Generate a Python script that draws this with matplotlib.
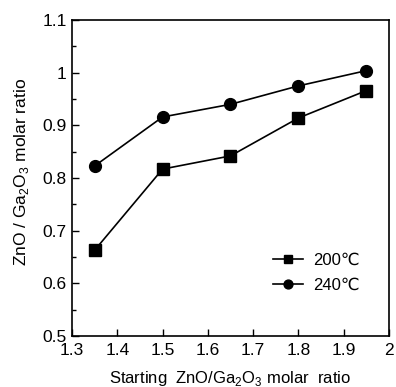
import matplotlib
matplotlib.use("Agg")
import matplotlib.pyplot as plt
from matplotlib.ticker import MultipleLocator

plt.rcParams['font.family'] = ['Liberation Sans', 'DejaVu Sans']
plt.rcParams['mathtext.fontset'] = 'custom'
plt.rcParams['mathtext.rm'] = 'Liberation Sans'

# datos
x_start = [1.35, 1.5, 1.65, 1.8, 1.95]
ratio_200 = [0.663, 0.817, 0.842, 0.914, 0.966]
ratio_240 = [0.823, 0.916, 0.940, 0.975, 1.004]
labels = ["200\u2103", "240\u2103"]

fig = plt.figure(figsize=(3.96, 3.87), dpi=100)
ax = fig.add_axes([0.182, 0.132, 0.800, 0.816])

ax.plot(x_start, ratio_200, color="black", lw=1.2, marker="s", ms=8, label=labels[0])
ax.plot(x_start, ratio_240, color="black", lw=1.2, marker="o", ms=8.5, label=labels[1])

ax.set_xlim(1.3, 2.0)
ax.set_ylim(0.5, 1.1)
ax.yaxis.set_minor_locator(MultipleLocator(0.05))
ax.set_xticks([1.3, 1.4, 1.5, 1.6, 1.7, 1.8, 1.9, 2.0])
ax.set_xticklabels(["1.3", "1.4", "1.5", "1.6", "1.7", "1.8", "1.9", "2"])
ax.set_yticks([0.5, 0.6, 0.7, 0.8, 0.9, 1.0, 1.1])
ax.set_yticklabels(["0.5", "0.6", "0.7", "0.8", "0.9", "1", "1.1"])
ax.tick_params(direction="in", length=5, width=1, labelsize=12.5, top=False, right=False)
ax.tick_params(which="minor", direction="in", length=3, width=1)
ax.tick_params(axis="x", pad=5)
ax.tick_params(axis="y", pad=4)
for s in ax.spines.values():
    s.set_linewidth(1.2)

ax.set_xlabel("Starting  ZnO/Ga$_2$O$_3$ molar  ratio", fontsize=12, labelpad=8)
ax.set_ylabel("ZnO / Ga$_2$O$_3$ molar ratio", fontsize=12.5)
ax.yaxis.set_label_coords(-0.13, 0.52)

ax.legend(loc="lower right", bbox_to_anchor=(0.955, 0.09), frameon=False, fontsize=12,
          handlelength=1.8, markerscale=0.75, labelspacing=0.6, handletextpad=0.6)

fig.savefig("out.png", dpi=100)
